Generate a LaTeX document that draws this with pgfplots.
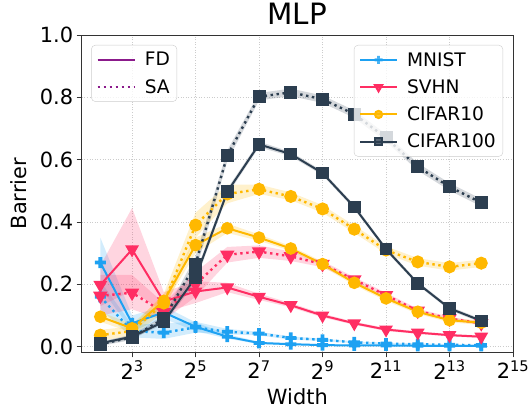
\documentclass[border=0pt]{standalone}
\usepackage{fontspec}
\setmainfont{DejaVu Sans}
\usepackage{pgfplots}
\usepackage{pgfplotstable}
\pgfplotsset{compat=1.18}
\usepgfplotslibrary{fillbetween}

\definecolor{cmnist}{HTML}{1DA1F2}
\definecolor{csvhn}{HTML}{FF2E63}
\definecolor{ccifa}{HTML}{FFB800}
\definecolor{ccifb}{HTML}{2C3E50}
\definecolor{cpurp}{HTML}{8B1A8B}

% filled plus, like matplotlib's "P"
\pgfdeclareplotmark{fatplus}{%
  \pgfpathmoveto{\pgfqpoint{-0.35\pgfplotmarksize}{\pgfplotmarksize}}%
  \pgfpathlineto{\pgfqpoint{0.35\pgfplotmarksize}{\pgfplotmarksize}}%
  \pgfpathlineto{\pgfqpoint{0.35\pgfplotmarksize}{0.35\pgfplotmarksize}}%
  \pgfpathlineto{\pgfqpoint{\pgfplotmarksize}{0.35\pgfplotmarksize}}%
  \pgfpathlineto{\pgfqpoint{\pgfplotmarksize}{-0.35\pgfplotmarksize}}%
  \pgfpathlineto{\pgfqpoint{0.35\pgfplotmarksize}{-0.35\pgfplotmarksize}}%
  \pgfpathlineto{\pgfqpoint{0.35\pgfplotmarksize}{-\pgfplotmarksize}}%
  \pgfpathlineto{\pgfqpoint{-0.35\pgfplotmarksize}{-\pgfplotmarksize}}%
  \pgfpathlineto{\pgfqpoint{-0.35\pgfplotmarksize}{-0.35\pgfplotmarksize}}%
  \pgfpathlineto{\pgfqpoint{-\pgfplotmarksize}{-0.35\pgfplotmarksize}}%
  \pgfpathlineto{\pgfqpoint{-\pgfplotmarksize}{0.35\pgfplotmarksize}}%
  \pgfpathlineto{\pgfqpoint{-0.35\pgfplotmarksize}{0.35\pgfplotmarksize}}%
  \pgfpathclose
  \pgfusepathqfill
}

% x fd fdlo fdhi sa salo sahi
\pgfplotstableread{
x fd fdlo fdhi sa salo sahi
4 0.270 0.190 0.350 0.160 0.120 0.210
8 0.075 0.050 0.100 0.050 0.030 0.070
16 0.110 0.090 0.130 0.045 0.025 0.075
32 0.064 0.050 0.078 0.062 0.045 0.080
64 0.032 0.026 0.040 0.048 0.040 0.057
128 0.012 0.008 0.016 0.042 0.036 0.048
256 0.008 0.005 0.011 0.028 0.023 0.033
512 0.005 0.003 0.008 0.022 0.018 0.026
1024 0.004 0.002 0.006 0.014 0.011 0.017
2048 0.004 0.002 0.006 0.010 0.007 0.013
4096 0.003 0.001 0.005 0.008 0.005 0.011
8192 0.003 0.001 0.005 0.006 0.004 0.008
16384 0.003 0.001 0.005 0.005 0.003 0.007
}\mnist

\pgfplotstableread{
x fd fdlo fdhi sa salo sahi
4 0.198 0.130 0.260 0.163 0.100 0.230
8 0.312 0.180 0.445 0.173 0.120 0.230
16 0.145 0.110 0.175 0.110 0.085 0.140
32 0.177 0.140 0.210 0.200 0.160 0.240
64 0.190 0.175 0.205 0.295 0.270 0.320
128 0.160 0.150 0.170 0.305 0.285 0.325
256 0.133 0.126 0.140 0.290 0.275 0.305
512 0.100 0.094 0.106 0.265 0.255 0.275
1024 0.075 0.070 0.080 0.215 0.207 0.223
2048 0.055 0.050 0.060 0.165 0.157 0.173
4096 0.045 0.041 0.049 0.115 0.108 0.122
8192 0.037 0.033 0.041 0.090 0.084 0.096
16384 0.032 0.028 0.036 0.075 0.070 0.080
}\svhn

\pgfplotstableread{
x fd fdlo fdhi sa salo sahi
4 0.096 0.080 0.112 0.037 0.020 0.054
8 0.059 0.045 0.072 0.050 0.035 0.065
16 0.147 0.130 0.165 0.140 0.110 0.170
32 0.326 0.300 0.350 0.390 0.350 0.430
64 0.380 0.365 0.395 0.490 0.460 0.520
128 0.350 0.340 0.360 0.505 0.490 0.520
256 0.315 0.307 0.323 0.482 0.470 0.495
512 0.265 0.257 0.273 0.442 0.430 0.454
1024 0.205 0.197 0.213 0.377 0.365 0.389
2048 0.155 0.147 0.163 0.310 0.298 0.322
4096 0.112 0.105 0.119 0.272 0.260 0.284
8192 0.085 0.078 0.092 0.256 0.244 0.268
16384 0.077 0.070 0.084 0.268 0.256 0.280
}\cifarten

\pgfplotstableread{
x fd fdlo fdhi sa salo sahi
4 0.011 0.005 0.017 0.008 0.002 0.014
8 0.032 0.026 0.038 0.030 0.022 0.038
16 0.080 0.072 0.088 0.090 0.080 0.100
32 0.222 0.207 0.237 0.265 0.240 0.290
64 0.497 0.487 0.507 0.613 0.595 0.630
128 0.649 0.640 0.658 0.802 0.790 0.814
256 0.618 0.611 0.625 0.816 0.804 0.828
512 0.557 0.550 0.564 0.794 0.782 0.806
1024 0.448 0.441 0.455 0.746 0.734 0.758
2048 0.313 0.306 0.320 0.670 0.658 0.682
4096 0.203 0.197 0.209 0.577 0.565 0.589
8192 0.123 0.117 0.129 0.513 0.501 0.525
16384 0.083 0.077 0.089 0.462 0.450 0.474
}\cifarhundred

% table, low column, high column, colour, name
\newcommand{\band}[5]{%
  \addplot[draw=none, forget plot, name path=#5lo] table[x=x,y=#2]{#1};
  \addplot[draw=none, forget plot, name path=#5hi] table[x=x,y=#3]{#1};
  \addplot[fill=#4, fill opacity=0.2, draw=none, forget plot] fill between[of=#5lo and #5hi];
}

\pgfplotsset{
  fd/.style={line width=2bp, solid},
  sa/.style={line width=2.4bp, dash pattern=on 2.4bp off 3.6bp},
  mmnist/.style={mark=fatplus, mark size=5.5bp, mark options={solid}},
  msvhn/.style={mark=triangle*, mark size=6bp, mark options={solid, rotate=180}},
  mcifa/.style={mark=*, mark size=5.3bp, mark options={solid}},
  mcifb/.style={mark=square*, mark size=5.3bp, mark options={solid}},
  legend image code/.code={
    \draw[mark repeat=2, mark phase=2, #1] plot coordinates {(0bp,0bp) (18.5bp,0bp) (37bp,0bp)};
  },
}

\begin{document}
\begin{tikzpicture}
\begin{axis}[
  scale only axis, width=431.3bp, height=317.3bp,
  xmode=log, log basis x=2,
  xmin=2.663, xmax=32768, ymin=-0.018, ymax=1.0,
  axis line style={black!80, line width=0.8bp},
  xtick={8,32,128,512,2048,8192,32768},
  xticklabels={2\textsuperscript{3},2\textsuperscript{5},2\textsuperscript{7},2\textsuperscript{9},2\textsuperscript{11},2\textsuperscript{13},2\textsuperscript{15}},
  ytick={0,0.2,0.4,0.6,0.8,1.0},
  yticklabel style={/pgf/number format/fixed, /pgf/number format/fixed zerofill, /pgf/number format/precision=1},
  /pgf/number format/assume math mode=true,
  tick label style={font=\fontsize{21}{25}\selectfont},
  tick align=outside, xtick pos=left, ytick pos=left,
  major tick length=5bp,
  minor tick num=0,
  tick style={black!80, line width=0.8bp},
  grid=major,
  major grid style={gray!40, line width=0.8bp, dash pattern=on 1bp off 1.6bp},
  title={MLP},
  title style={at={(axis description cs:0.5,1.0158)}, anchor=base, yshift=0pt, font=\fontsize{29.5}{34}\selectfont},
  xlabel={Width},
  xlabel style={at={(axis description cs:0.5,-0.1645)}, anchor=base, font=\fontsize{21}{25}\selectfont},
  ylabel={Barrier},
  ylabel style={at={(axis description cs:-0.1275,0.5)}, anchor=base, font=\fontsize{21}{25}\selectfont},
  legend style={at={(1,1)}, anchor=north east, xshift=-10bp, yshift=-10bp,
    font=\fontsize{18.7}{22}\selectfont, draw=black!20, rounded corners=4bp,
    fill=white, fill opacity=0.8, text opacity=1, row sep=8bp,
    inner xsep=5bp, inner ysep=5bp,
    /tikz/every odd column/.append style={column sep=7bp}},
  legend cell align=left,
]
\addlegendimage{cmnist, line width=2bp, mark=fatplus, mark size=4bp}
\addlegendimage{csvhn, line width=2bp, mark=triangle*, mark size=4.2bp, mark options={rotate=180}}
\addlegendimage{ccifa, line width=2bp, mark=*, mark size=3.6bp}
\addlegendimage{ccifb, line width=2bp, mark=square*, mark size=3.6bp}

\band{\mnist}{fdlo}{fdhi}{cmnist}{a}
\addplot[cmnist, fd, mmnist, forget plot] table[x=x,y=fd]{\mnist};
\band{\mnist}{salo}{sahi}{cmnist}{b}
\addplot[cmnist, sa, mmnist, forget plot] table[x=x,y=sa]{\mnist};

\band{\svhn}{fdlo}{fdhi}{csvhn}{c}
\addplot[csvhn, fd, msvhn, forget plot] table[x=x,y=fd]{\svhn};
\band{\svhn}{salo}{sahi}{csvhn}{d}
\addplot[csvhn, sa, msvhn, forget plot] table[x=x,y=sa]{\svhn};

\band{\cifarten}{fdlo}{fdhi}{ccifa}{e}
\addplot[ccifa, fd, mcifa, forget plot] table[x=x,y=fd]{\cifarten};
\band{\cifarten}{salo}{sahi}{ccifa}{f}
\addplot[ccifa, sa, mcifa, forget plot] table[x=x,y=sa]{\cifarten};

\band{\cifarhundred}{fdlo}{fdhi}{ccifb}{g}
\addplot[ccifb, fd, mcifb, forget plot] table[x=x,y=fd]{\cifarhundred};
\band{\cifarhundred}{salo}{sahi}{ccifb}{h}
\addplot[ccifb, sa, mcifb, forget plot] table[x=x,y=sa]{\cifarhundred};

\legend{MNIST,SVHN,CIFAR10,CIFAR100}
\end{axis}

\begin{axis}[
  scale only axis, width=431.3bp, height=317.3bp,
  xmin=0, xmax=1, ymin=0, ymax=1, hide axis,
  legend style={at={(0,1)}, anchor=north west, xshift=9.5bp, yshift=-10bp,
    font=\fontsize{18.7}{22}\selectfont, draw=black!20, rounded corners=4bp,
    fill=white, fill opacity=0.8, text opacity=1, row sep=8bp,
    inner xsep=5bp, inner ysep=5bp,
    /tikz/every odd column/.append style={column sep=7bp}},
  legend cell align=left,
]
\addlegendimage{cpurp, line width=2bp}
\addlegendimage{cpurp, line width=2.4bp, dash pattern=on 2.4bp off 3.6bp}
\legend{FD,SA}
\end{axis}

\pgfresetboundingbox
\path (-81.7bp,-55.7bp) rectangle (448.3bp,352.3bp);
\end{tikzpicture}
\end{document}
